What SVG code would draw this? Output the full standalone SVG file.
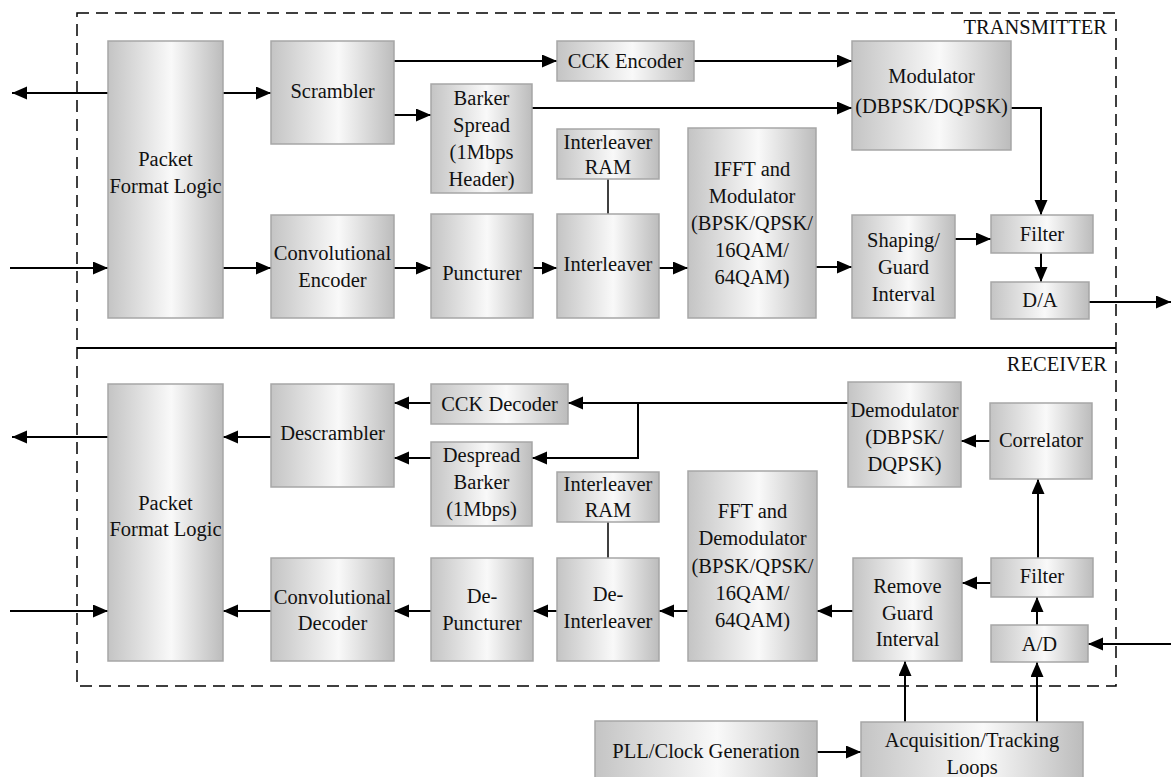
<svg xmlns="http://www.w3.org/2000/svg" width="1171" height="777" viewBox="0 0 1171 777" font-family="Liberation Serif, Times New Roman, serif">
<defs>
<linearGradient id="g" x1="0" y1="0" x2="1" y2="0">
<stop offset="0" stop-color="#c4c4c4"/>
<stop offset="0.55" stop-color="#f9f9f9"/>
<stop offset="1" stop-color="#bcbcbc"/>
</linearGradient>
<marker id="ah" markerUnits="userSpaceOnUse" markerWidth="16" markerHeight="14" refX="15" refY="6.5" orient="auto">
<path d="M0,0 L15,6.5 L0,13 z" fill="#000"/>
</marker>
<style>
.b{fill:url(#g);stroke:#a6a6a6;stroke-width:1.5}
.t{font-family:'Liberation Serif',serif;font-size:20.5px;fill:#111;text-anchor:middle}
.lb{font-family:'Liberation Serif',serif;font-size:20.5px;fill:#111;text-anchor:end}
.c{fill:none;stroke:#000;stroke-width:2}
.a{fill:none;stroke:#000;stroke-width:2;marker-end:url(#ah)}
.p{fill:none;stroke:#000;stroke-width:1.5}
</style>
</defs>
<rect width="1171" height="777" fill="#fff"/>
<g id="frame">
<rect x="77" y="13" width="1039" height="673" fill="none" stroke="#000" stroke-width="1.5" stroke-dasharray="12,7"/>
<line x1="77" y1="348" x2="1116" y2="348" stroke="#000" stroke-width="2"/>
<text class="lb" x="1107" y="34">TRANSMITTER</text>
<text class="lb" x="1107" y="371">RECEIVER</text>
</g>
<g id="connectors">
<line class="a" x1="108" y1="93" x2="12" y2="93"/>
<line class="a" x1="223" y1="93" x2="271" y2="93"/>
<line class="a" x1="10" y1="268" x2="108" y2="268"/>
<line class="a" x1="223" y1="268" x2="271" y2="268"/>
<line class="a" x1="394" y1="61" x2="557" y2="61"/>
<line class="a" x1="394" y1="115" x2="431" y2="115"/>
<line class="a" x1="694" y1="61" x2="852" y2="61"/>
<line class="a" x1="532" y1="108" x2="852" y2="108"/>
<path class="a" d="M1011,108 H1041 V215"/>
<line class="a" x1="1041" y1="253" x2="1041" y2="282"/>
<line class="a" x1="1089" y1="302" x2="1171" y2="302"/>
<line class="a" x1="394" y1="268" x2="431" y2="268"/>
<line class="a" x1="533" y1="268" x2="557" y2="268"/>
<line class="a" x1="659" y1="268" x2="688" y2="268"/>
<line class="a" x1="816" y1="267" x2="852" y2="267"/>
<line class="a" x1="955" y1="239" x2="991" y2="239"/>
<line class="p" x1="608" y1="179" x2="608" y2="214"/>
<line class="a" x1="108" y1="437" x2="12" y2="437"/>
<line class="a" x1="271" y1="437" x2="223" y2="437"/>
<line class="a" x1="431" y1="403" x2="394" y2="403"/>
<line class="a" x1="431" y1="458" x2="394" y2="458"/>
<line class="a" x1="848" y1="403" x2="568" y2="403"/>
<path class="a" d="M638,403 V458 H532"/>
<line class="a" x1="990" y1="441" x2="961" y2="441"/>
<line class="a" x1="1038" y1="558" x2="1038" y2="479"/>
<line class="a" x1="991" y1="583" x2="962" y2="583"/>
<line class="a" x1="1037" y1="625" x2="1037" y2="597"/>
<line class="a" x1="1171" y1="644" x2="1088" y2="644"/>
<line class="a" x1="853" y1="611" x2="817" y2="611"/>
<line class="a" x1="688" y1="611" x2="659" y2="611"/>
<line class="a" x1="557" y1="611" x2="533" y2="611"/>
<line class="a" x1="431" y1="611" x2="394" y2="611"/>
<line class="a" x1="271" y1="611" x2="223" y2="611"/>
<line class="a" x1="10" y1="611" x2="108" y2="611"/>
<line class="p" x1="608" y1="522" x2="608" y2="558"/>
<line class="a" x1="817" y1="752" x2="861" y2="752"/>
<line class="a" x1="905" y1="722" x2="905" y2="661"/>
<line class="a" x1="1037" y1="722" x2="1037" y2="662"/>
</g>
<g id="tx-packet"><rect class="b" x="108" y="41" width="115" height="277"/><text class="t" x="165.5" y="165.5">Packet</text><text class="t" x="165.5" y="192.5">Format Logic</text></g>
<g id="scrambler"><rect class="b" x="271" y="41" width="123" height="103"/><text class="t" x="332.5" y="97.5">Scrambler</text></g>
<g id="cck-encoder"><rect class="b" x="557" y="41" width="137" height="40"/><text class="t" x="625.5" y="67.5">CCK Encoder</text></g>
<g id="barker-spread"><rect class="b" x="431" y="84" width="101" height="109"/><text class="t" x="481.5" y="104.6">Barker</text><text class="t" x="481.5" y="131.6">Spread</text><text class="t" x="481.5" y="158.6">(1Mbps</text><text class="t" x="481.5" y="185.6">Header)</text></g>
<g id="tx-interleaver-ram"><rect class="b" x="557" y="129" width="102" height="50"/><text class="t" x="608" y="149">Interleaver</text><text class="t" x="608" y="174">RAM</text></g>
<g id="ifft"><rect class="b" x="688" y="128" width="128" height="190"/><text class="t" x="752" y="175.5">IFFT and</text><text class="t" x="752" y="202.5">Modulator</text><text class="t" x="752" y="229.5">(BPSK/QPSK/</text><text class="t" x="752" y="256.5">16QAM/</text><text class="t" x="752" y="283.5">64QAM)</text></g>
<g id="modulator"><rect class="b" x="852" y="41" width="159" height="109"/><text class="t" x="931.5" y="82.5">Modulator</text><text class="t" x="931.5" y="112.8">(DBPSK/DQPSK)</text></g>
<g id="conv-encoder"><rect class="b" x="271" y="215" width="123" height="103"/><text class="t" x="332.5" y="260.3">Convolutional</text><text class="t" x="332.5" y="286.8">Encoder</text></g>
<g id="puncturer"><rect class="b" x="431" y="214" width="102" height="104"/><text class="t" x="482" y="280">Puncturer</text></g>
<g id="interleaver"><rect class="b" x="557" y="214" width="102" height="104"/><text class="t" x="608" y="270.8">Interleaver</text></g>
<g id="shaping"><rect class="b" x="852" y="215" width="103" height="103"/><text class="t" x="903.5" y="246.8">Shaping/</text><text class="t" x="903.5" y="273.8">Guard</text><text class="t" x="903.5" y="300.8">Interval</text></g>
<g id="tx-filter"><rect class="b" x="991" y="215" width="102" height="38"/><text class="t" x="1042" y="240.5">Filter</text></g>
<g id="da"><rect class="b" x="991" y="282" width="98" height="37"/><text class="t" x="1040" y="307">D/A</text></g>
<g id="rx-packet"><rect class="b" x="108" y="384" width="115" height="277"/><text class="t" x="165.5" y="509.5">Packet</text><text class="t" x="165.5" y="536">Format Logic</text></g>
<g id="descrambler"><rect class="b" x="271" y="384" width="123" height="103"/><text class="t" x="332.5" y="440.3">Descrambler</text></g>
<g id="cck-decoder"><rect class="b" x="431" y="384" width="137" height="40"/><text class="t" x="499.5" y="411">CCK Decoder</text></g>
<g id="despread"><rect class="b" x="431" y="442" width="101" height="84"/><text class="t" x="481.5" y="461.8">Despread</text><text class="t" x="481.5" y="488.5">Barker</text><text class="t" x="481.5" y="515.5">(1Mbps)</text></g>
<g id="rx-interleaver-ram"><rect class="b" x="557" y="472" width="102" height="50"/><text class="t" x="608" y="490.5">Interleaver</text><text class="t" x="608" y="516.8">RAM</text></g>
<g id="fft"><rect class="b" x="688" y="471" width="129" height="190"/><text class="t" x="752.5" y="517.8">FFT and</text><text class="t" x="752.5" y="545.3">Demodulator</text><text class="t" x="752.5" y="572.8">(BPSK/QPSK/</text><text class="t" x="752.5" y="599.8">16QAM/</text><text class="t" x="752.5" y="626.8">64QAM)</text></g>
<g id="demodulator"><rect class="b" x="848" y="382" width="113" height="105"/><text class="t" x="904.5" y="417.3">Demodulator</text><text class="t" x="904.5" y="444.3">(DBPSK/</text><text class="t" x="904.5" y="471.3">DQPSK)</text></g>
<g id="correlator"><rect class="b" x="990" y="403" width="102" height="76"/><text class="t" x="1041" y="447">Correlator</text></g>
<g id="rx-filter"><rect class="b" x="991" y="558" width="102" height="39"/><text class="t" x="1042" y="582.6">Filter</text></g>
<g id="remove-guard"><rect class="b" x="853" y="558" width="109" height="103"/><text class="t" x="907.5" y="592.6">Remove</text><text class="t" x="907.5" y="619.8">Guard</text><text class="t" x="907.5" y="646">Interval</text></g>
<g id="ad"><rect class="b" x="991" y="625" width="97" height="37"/><text class="t" x="1039.5" y="650.5">A/D</text></g>
<g id="conv-decoder"><rect class="b" x="271" y="558" width="123" height="103"/><text class="t" x="332.5" y="603.5">Convolutional</text><text class="t" x="332.5" y="630">Decoder</text></g>
<g id="depuncturer"><rect class="b" x="431" y="558" width="102" height="103"/><text class="t" x="482" y="603">De-</text><text class="t" x="482" y="630">Puncturer</text></g>
<g id="deinterleaver"><rect class="b" x="557" y="558" width="102" height="103"/><text class="t" x="608" y="601">De-</text><text class="t" x="608" y="628">Interleaver</text></g>
<g id="pll"><rect class="b" x="595" y="721" width="222" height="60"/><text class="t" x="706" y="757.6">PLL/Clock Generation</text></g>
<g id="acquisition"><rect class="b" x="861" y="722" width="222" height="60"/><text class="t" x="972" y="746.8">Acquisition/Tracking</text><text class="t" x="972" y="774">Loops</text></g>
</svg>
